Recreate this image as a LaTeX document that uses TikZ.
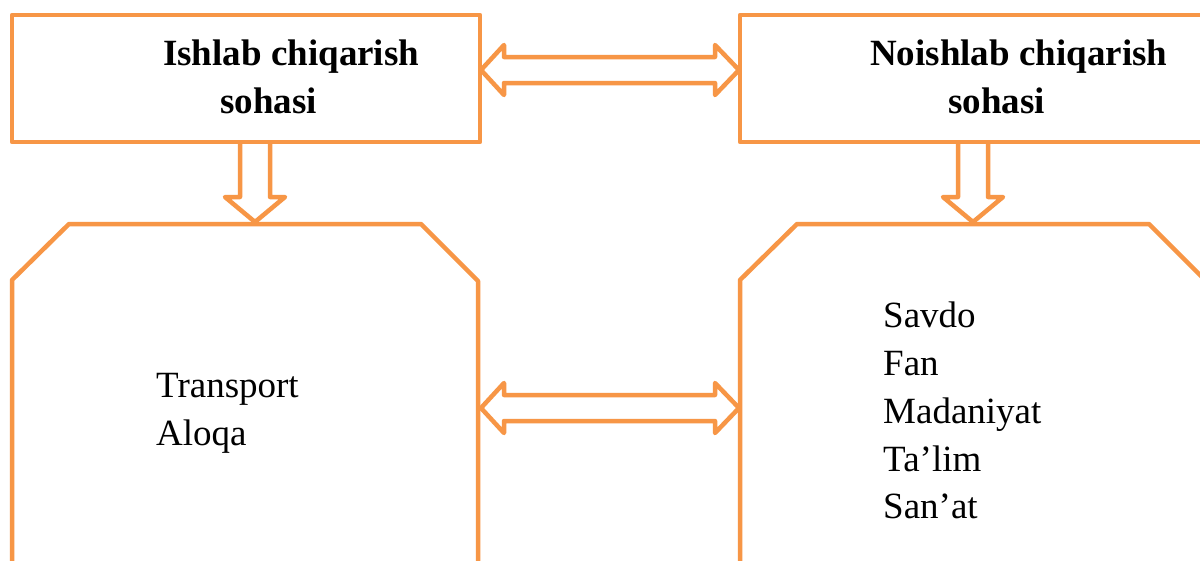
\documentclass[tikz,border=0pt]{standalone}
\usepackage{fontspec}
\setmainfont{Liberation Serif}
\definecolor{orng}{HTML}{F79646}
\begin{document}
\begin{tikzpicture}[x=1pt,y=-1pt,
  ob/.style={draw=orng,line width=4.5pt,line join=round},
  lbl/.style={anchor=base west,inner sep=0pt,font=\fontsize{37}{44}\selectfont},
  hlbl/.style={lbl,font=\fontsize{37}{44}\selectfont\bfseries}]
\useasboundingbox[fill=white] (0,0) rectangle (1200,560);
% top boxes
\node[ob,minimum width=468pt,minimum height=127pt,inner sep=0pt,outer sep=0pt] (boxA) at (246,78.5) {};
\node[ob,minimum width=468pt,minimum height=127pt,inner sep=0pt,outer sep=0pt] (boxB) at (974,78.5) {};
\node[hlbl] (ta1) at (163,65) {Ishlab chiqarish};
\node[hlbl] (ta2) at (220,113) {sohasi};
\node[hlbl] (tb1) at (870,65) {Noishlab chiqarish};
\node[hlbl] (tb2) at (948,113) {sohasi};
% octagons
\draw[ob] (12,620) -- (12,280) -- (69,224) -- (421,224) -- (478,281) -- (478,620);
\draw[ob] (740,620) -- (740,280) -- (797,224) -- (1149,224) -- (1206,281) -- (1206,620);
\coordinate (octA) at (255,224);
\coordinate (octB) at (973,224);
\node[lbl] (la1) at (156,397) {Transport};
\node[lbl] (la2) at (156,445) {Aloqa};
\node[lbl] (lb1) at (883,327) {Savdo};
\node[lbl] (lb2) at (883,375) {Fan};
\node[lbl] (lb3) at (883,423) {Madaniyat};
\node[lbl] (lb4) at (883,471) {Ta’lim};
\node[lbl] (lb5) at (883,518) {San’at};
% top double arrow
\coordinate (tl) at (481,70);
\coordinate (tr) at (739,70);
\draw[ob] (tl) -- ++(23,-25) -- ++(0,12) -- (715,57) -- ++(0,-12) -- (tr) -- (715,95) -- ++(0,-12) -- (504,83) -- ++(0,12) -- cycle;
% bottom double arrow
\coordinate (bl) at (481,408);
\coordinate (br) at (739,408);
\draw[ob] (bl) -- ++(23,-25) -- ++(0,12) -- (715,395) -- ++(0,-12) -- (br) -- (715,433) -- ++(0,-12) -- (504,421) -- ++(0,12) -- cycle;
% down arrows
\draw[ob] (240,142) -- (240,197) -- (225,197) -- (octA |- 0,222) -- (285,197) -- (270,197) -- (270,142);
\draw[ob] (958,142) -- (958,197) -- (943,197) -- (octB |- 0,222) -- (1003,197) -- (988,197) -- (988,142);
\end{tikzpicture}
\end{document}
